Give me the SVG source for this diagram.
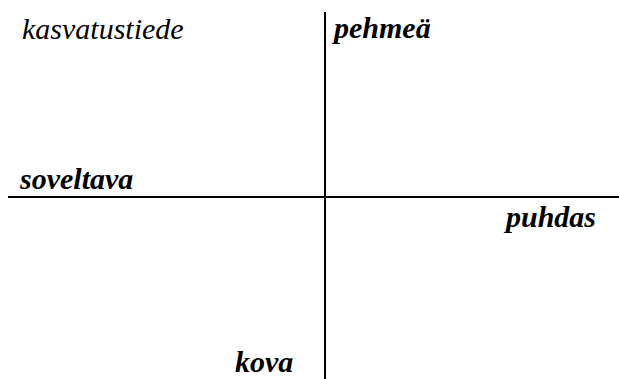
<svg xmlns="http://www.w3.org/2000/svg" width="619" height="379" viewBox="0 0 619 379">
<rect width="619" height="379" fill="#fff"/>
<g id="connectors" stroke="#000" stroke-width="2">
<line x1="325" y1="12" x2="325" y2="379"/>
<line x1="8" y1="197" x2="619" y2="197"/>
</g>
<g id="kasvatustiede"><text x="22" y="39" font-family="Liberation Serif" font-style="italic" font-size="30">kasvatustiede</text></g>
<g id="pehmea"><text x="334" y="38" font-family="Liberation Serif" font-style="italic" font-weight="bold" font-size="30">pehmeä</text></g>
<g id="soveltava"><text x="20" y="189" font-family="Liberation Serif" font-style="italic" font-weight="bold" font-size="30">soveltava</text></g>
<g id="puhdas"><text x="506" y="227" font-family="Liberation Serif" font-style="italic" font-weight="bold" font-size="30">puhdas</text></g>
<g id="kova"><text x="235" y="372" font-family="Liberation Serif" font-style="italic" font-weight="bold" font-size="30">kova</text></g>
</svg>
